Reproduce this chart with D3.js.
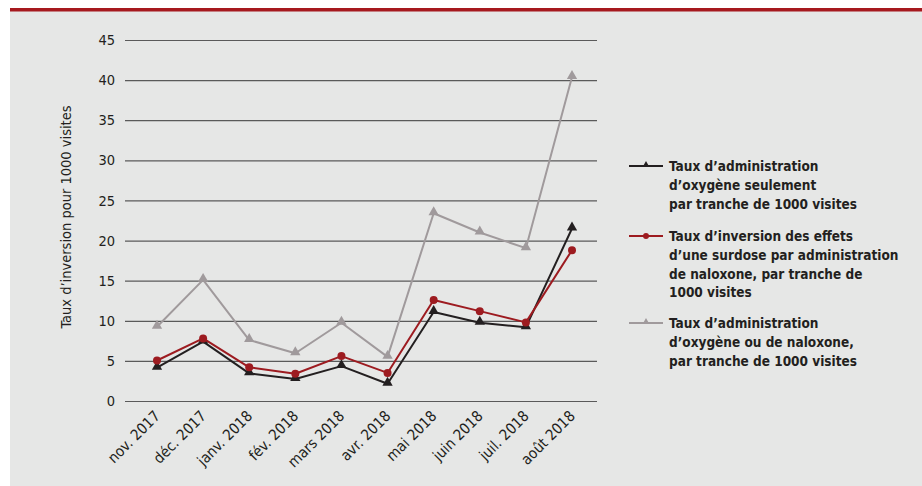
<!DOCTYPE html>
<meta charset="utf-8">
<script src="https://cdn.jsdelivr.net/npm/d3@7"></script>
<style>
  body { margin: 0; background: #fff; }
  text { font-family: "DejaVu Sans Condensed", "DejaVu Sans", sans-serif; font-stretch: condensed; fill: #231f20; }
</style>
<div id="my_dataviz"></div>
<script>

// data
var months = ["nov. 2017", "déc. 2017", "janv. 2018", "fév. 2018", "mars 2018",
              "avr. 2018", "mai 2018", "juin 2018", "juil. 2018", "août 2018"];
var oxygenOnly = [4.15, 7.4, 3.45, 2.75, 4.35, 2.15, 11.1, 9.75, 9.2, 21.5];
var naloxone   = [5.05, 7.8, 4.2, 3.4, 5.6, 3.5, 12.6, 11.2, 9.8, 18.8];
var either     = [9.25, 15.1, 7.6, 5.95, 9.75, 5.5, 23.4, 21.0, 19.05, 40.4];
var yTicks = [0, 5, 10, 15, 20, 25, 30, 35, 40, 45];

var series = [
  {values: oxygenOnly, color: "#231f20", marker: "triangle",
   label: ["Taux d’administration", "d’oxygène seulement", "par tranche de 1000 visites"]},
  {values: naloxone, color: "#9d1b20", marker: "circle",
   label: ["Taux d’inversion des effets", "d’une surdose par administration", "de naloxone, par tranche de", "1000 visites"]},
  {values: either, color: "#a09a9c", marker: "triangle",
   label: ["Taux d’administration", "d’oxygène ou de naloxone,", "par tranche de 1000 visites"]}
];

var W = 922, H = 486;
var svg = d3.select("#my_dataviz")
  .append("svg")
    .attr("width", W)
    .attr("height", H);

// panel background and red top band
svg.append("rect")
  .attr("x", 10).attr("y", 11).attr("width", W - 10).attr("height", H - 11)
  .attr("fill", "#e6e7e6");
svg.append("rect")
  .attr("x", 10).attr("y", 8).attr("width", W - 10).attr("height", 3.5)
  .attr("fill", "#a6191e");

// scales
var x = d3.scalePoint()
  .domain(months)
  .range([157, 572]);
var y = d3.scaleLinear()
  .domain([0, 45])
  .range([401, 40]);

// gridlines + y labels
var yAxis = svg.append("g")
  .attr("transform", "translate(125,0)")
  .call(d3.axisLeft(y).tickValues(yTicks).tickSize(-472).tickPadding(10));
yAxis.select(".domain").remove();
yAxis.selectAll(".tick line").attr("stroke", "#5a5a5a").attr("stroke-width", 1.2);
yAxis.selectAll(".tick text")
  .style("font-size", "14.5px")
  .style("font-family", "\"DejaVu Sans Condensed\", \"DejaVu Sans\", sans-serif")
  .attr("fill", "#231f20");

// y title
svg.append("text")
  .attr("transform", "translate(71,217) rotate(-90)")
  .style("text-anchor", "middle")
  .style("font-size", "14.5px")
  .text("Taux d’inversion pour 1000 visites");

// x labels
svg.selectAll("xlabel")
  .data(months)
  .enter()
  .append("text")
    .attr("transform", function(d) { return "translate(" + (x(d) + 4) + ",417) rotate(-45)"; })
    .style("text-anchor", "end")
    .style("font-size", "15px")
    .text(function(d) { return d; });

var line = d3.line()
  .x(function(d, i) { return x(months[i]); })
  .y(function(d) { return y(d); });

var tri = d3.symbol().type(d3.symbolTriangle).size(46);
var triSmall = d3.symbol().type(d3.symbolTriangle).size(20);

// draw gray first so dark lines sit on top
[2, 0, 1].forEach(function(k) {
  var s = series[k];
  svg.append("path")
    .datum(s.values)
    .attr("fill", "none")
    .attr("stroke", s.color)
    .attr("stroke-width", 2)
    .attr("stroke-linejoin", "round")
    .attr("d", line);
  var m = svg.selectAll("m" + k)
    .data(s.values)
    .enter();
  if (s.marker === "circle") {
    m.append("circle")
      .attr("cx", function(d, i) { return x(months[i]); })
      .attr("cy", function(d) { return y(d); })
      .attr("r", 4)
      .attr("fill", s.color);
  } else {
    m.append("path")
      .attr("transform", function(d, i) { return "translate(" + x(months[i]) + "," + (y(d) - 1) + ")"; })
      .attr("d", tri)
      .attr("fill", s.color);
  }
});

// legend
var legendTop = [166, 236, 323];
series.forEach(function(s, k) {
  var g = svg.append("g").attr("transform", "translate(629," + legendTop[k] + ")");
  g.append("line")
    .attr("x1", 0).attr("x2", 34)
    .attr("stroke", s.color).attr("stroke-width", 2);
  if (s.marker === "circle") {
    g.append("circle").attr("cx", 17).attr("r", 3).attr("fill", s.color);
  } else {
    g.append("path").attr("transform", "translate(17,-1)").attr("d", triSmall).attr("fill", s.color);
  }
  g.selectAll("t")
    .data(s.label)
    .enter()
    .append("text")
      .attr("x", 40)
      .attr("y", function(d, i) { return i * 18.8 + 5; })
      .style("font-size", "13.5px")
      .style("font-weight", "bold")
      .text(function(d) { return d; });
});

</script>
